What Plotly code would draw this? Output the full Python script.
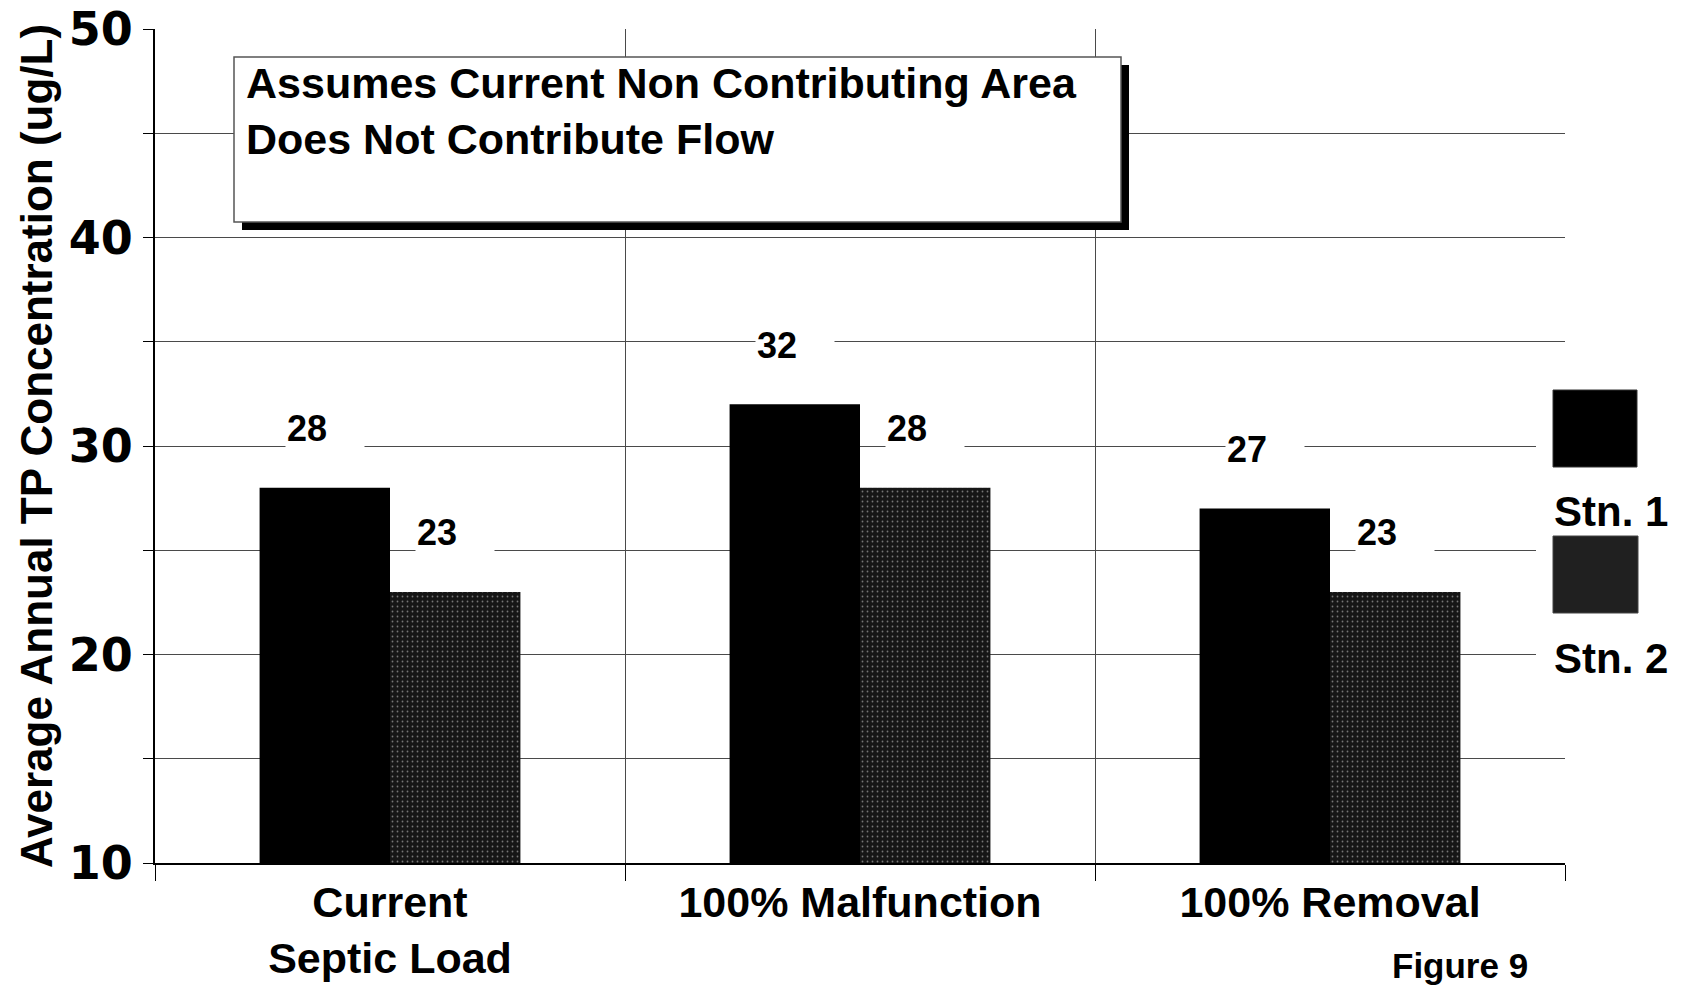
import plotly.graph_objects as go

# ---------------- data ----------------
categories = ["Current<br>Septic Load", "100% Malfunction", "100% Removal"]
stn1_values = [28, 32, 27]
stn2_values = [23, 28, 23]
series_names = ["Stn. 1", "Stn. 2"]
y_tick_values = [10, 15, 20, 25, 30, 35, 40, 45, 50]
y_tick_labels = ["10", "", "20", "", "30", "", "40", "", "50"]
note_text = "Assumes Current Non Contributing Area<br>Does Not Contribute Flow"
figure_label = "Figure 9"

# ---------------- style ----------------
W, H = 1681, 990
ML, MR, MT, MB = 155, 116, 29, 127
PW, PH = W - ML - MR, H - MT - MB
BARGAP = 0.445
FONT = "Liberation Sans, Arial, Helvetica, sans-serif"
GRID = "#4a4a4a"


def px_x(px):
    return (px - ML) / PW


def px_y(py):
    return (H - MB - py) / PH


fig = go.Figure()
fig.add_trace(go.Bar(
    x=categories, y=stn1_values, name=series_names[0],
    marker=dict(color="#000000", line=dict(width=0)),
))
fig.add_trace(go.Bar(
    x=categories, y=stn2_values, name=series_names[1],
    marker=dict(color="#161616", line=dict(width=0),
                pattern=dict(shape=".", fgcolor="#777777", bgcolor="#161616",
                             size=5, solidity=0.1, fillmode="replace")),
))

# value labels (white boxes hide the gridlines behind them)
bar_w = (1 - BARGAP) / 2
annotations = []
for vals, off in ((stn1_values, -bar_w / 2), (stn2_values, bar_w / 2)):
    for i, v in enumerate(vals):
        annotations.append(dict(
            x=i + off, y=v, xref="x", yref="y", text=f"<b>{v}</b>",
            showarrow=False, yshift=59, yanchor="middle", xanchor="center",
            width=76, align="left", bgcolor="white",
            font=dict(family=FONT, size=36, color="black"),
        ))

# note box text
annotations.append(dict(
    x=px_x(244), y=px_y(57), xref="paper", yref="paper", xanchor="left", yanchor="top",
    text=f"<b>{note_text}</b>", showarrow=False, align="left",
    font=dict(family=FONT, size=43, color="black"),
))
# legend texts
for label, py in ((series_names[0], 512), (series_names[1], 658)):
    annotations.append(dict(
        x=px_x(1552), y=px_y(py), xref="paper", yref="paper", xanchor="left", yanchor="middle",
        text=f"<b>{label}</b>", showarrow=False,
        font=dict(family=FONT, size=42, color="black"),
    ))
annotations.append(dict(
    x=px_x(1460), y=px_y(966), xref="paper", yref="paper", xanchor="center", yanchor="middle",
    text=f"<b>{figure_label}</b>", showarrow=False,
    font=dict(family=FONT, size=35, color="black"),
))

shapes = [
    # note box shadow + box
    dict(type="rect", xref="paper", yref="paper", layer="above",
         x0=px_x(242), x1=px_x(1129), y0=px_y(230), y1=px_y(65),
         fillcolor="black", line=dict(width=0)),
    dict(type="rect", xref="paper", yref="paper", layer="above",
         x0=px_x(234), x1=px_x(1121), y0=px_y(222), y1=px_y(57),
         fillcolor="white", line=dict(color="#555555", width=1.5)),
    # legend background
    dict(type="rect", xref="paper", yref="paper", layer="above",
         x0=px_x(1536), x1=px_x(1681), y0=px_y(698), y1=px_y(370),
         fillcolor="white", line=dict(width=0)),
    # legend swatches
    dict(type="rect", xref="paper", yref="paper", layer="above",
         x0=px_x(1553), x1=px_x(1637), y0=px_y(467), y1=px_y(390),
         fillcolor="black", line=dict(color="#333", width=1)),
    dict(type="rect", xref="paper", yref="paper", layer="above",
         x0=px_x(1553), x1=px_x(1638), y0=px_y(613), y1=px_y(536),
         fillcolor="#202020", line=dict(color="#444", width=1)),
]

fig.update_layout(
    width=W, height=H,
    margin=dict(l=ML, r=MR, t=MT, b=MB, pad=0, autoexpand=False),
    paper_bgcolor="white", plot_bgcolor="white",
    barmode="group", bargap=BARGAP, bargroupgap=0,
    showlegend=False,
    annotations=annotations, shapes=shapes,
    font=dict(family=FONT, color="black"),
)
fig.update_xaxes(
    type="category", range=[-0.5, 2.5], tickson="boundaries", automargin=False,
    showgrid=True, gridcolor=GRID, gridwidth=1,
    ticks="outside", ticklen=16, tickcolor="black", tickwidth=1,
    showline=True, linecolor="black", linewidth=2,
    tickfont=dict(family=FONT, size=43, color="black", weight="bold"),
)
fig.update_yaxes(
    range=[10, 50], tickmode="array", tickvals=y_tick_values, ticktext=y_tick_labels,
    automargin=False,
    showgrid=True, gridcolor=GRID, gridwidth=1,
    ticks="outside", ticklen=10, tickcolor="black", tickwidth=1,
    showline=True, linecolor="black", linewidth=2, zeroline=False,
    ticklabelstandoff=1,
    tickfont=dict(family="DejaVu Sans, sans-serif", size=46, color="black", weight="bold"),
    title=dict(text="<b>Average Annual TP Concentration (ug/L)</b>", standoff=2,
               font=dict(family=FONT, size=44, color="black")),
)

fig.write_html(
    "out.html",
    config={"displayModeBar": False},
    post_script="document.body.style.margin='0';document.body.style.overflow='hidden';",
)
